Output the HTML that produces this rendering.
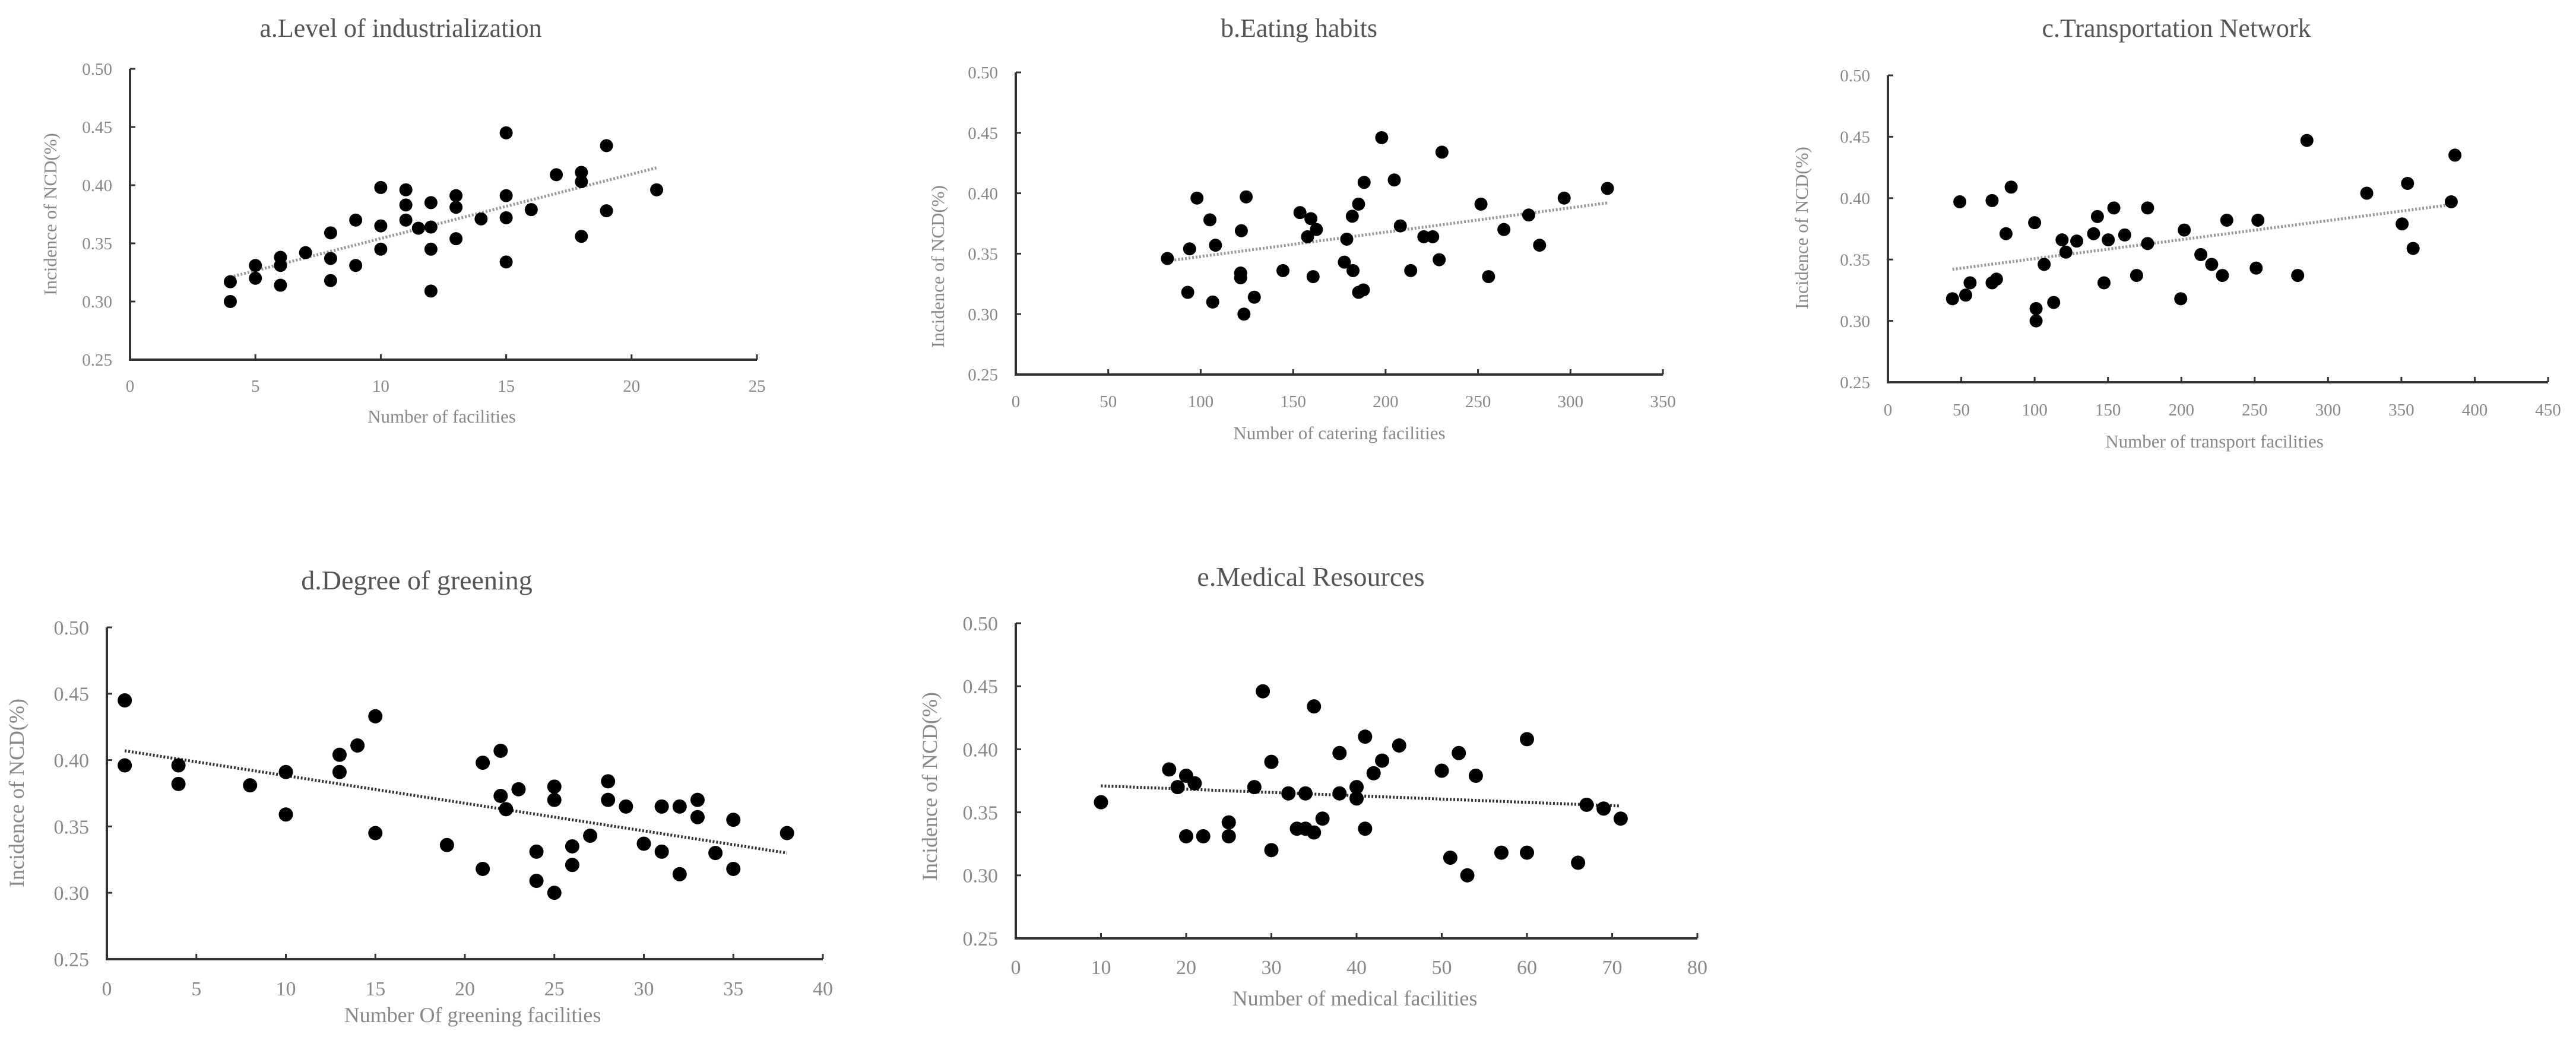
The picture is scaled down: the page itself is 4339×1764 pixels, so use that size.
<!DOCTYPE html>
<html><head><meta charset="utf-8"><style>
html,body{margin:0;padding:0;background:#fff;}
svg{display:block;font-family:"Liberation Serif",serif;}
</style></head><body>
<svg id="fig" width="4339" height="1764" viewBox="0 0 4339 1764" xmlns="http://www.w3.org/2000/svg"></svg>
<script>
const yTicks = [0.25,0.30,0.35,0.40,0.45,0.50];
const aX = [4,4,5,5,6,6,6,7,8,8,8,9,9,10,10,10,11,11,11,11.5,12,12,12,12,13,13,13,14,15,15,15,15,16,17,18,18,18,19,19,21];
const aY = [0.317,0.300,0.331,0.320,0.338,0.331,0.314,0.342,0.359,0.337,0.318,0.370,0.331,0.398,0.365,0.345,0.396,0.383,0.370,0.363,0.385,0.364,0.345,0.309,0.391,0.381,0.354,0.371,0.445,0.391,0.372,0.334,0.379,0.409,0.411,0.403,0.356,0.434,0.378,0.396];
const aTrend = [[4,0.321],[21,0.415]];
const bX = [82,93,94,98,105,106.5,108,122,121.6,121.6,123.4,124.6,129,144.5,153.7,159.6,157.8,162.6,160.8,179,177.7,182.4,182,185.4,185.4,188,188.4,197.9,204.7,208,213.6,220.7,225.5,229,230.5,251.6,255.7,264,277.4,283.3,296.6,320];
const bY = [0.346,0.318,0.354,0.396,0.378,0.310,0.357,0.369,0.334,0.330,0.300,0.397,0.314,0.336,0.384,0.379,0.364,0.370,0.331,0.362,0.343,0.336,0.381,0.391,0.318,0.320,0.409,0.446,0.411,0.373,0.336,0.364,0.364,0.345,0.434,0.391,0.331,0.370,0.382,0.357,0.396,0.404];
const bTrend = [[82,0.344],[320,0.392]];
const cX = [44,49,53,56,71,71,74,80.5,84,100,101,101,106.5,113,118.7,121.3,128.7,140.2,142.8,147.3,150.2,154,161.4,169.5,177,177,199.6,202,213.3,220.7,228,231,251,252.2,279.3,285.6,326.4,350.5,354.2,358,384,386.5];
const cY = [0.318,0.397,0.321,0.331,0.398,0.331,0.334,0.371,0.409,0.380,0.310,0.300,0.346,0.315,0.366,0.356,0.365,0.371,0.385,0.331,0.366,0.392,0.370,0.337,0.392,0.363,0.318,0.374,0.354,0.346,0.337,0.382,0.343,0.382,0.337,0.447,0.404,0.379,0.412,0.359,0.397,0.435];
const cTrend = [[44,0.342],[386,0.395]];
const dX = [1,1,4,4,8,10,10,13,13,14,15,15,19,21,21,22,22,22.3,23,24,24,25,25,25,26,26,27,28,28,29,30,31,31,32,32,33,33,34,35,35,38];
const dY = [0.445,0.396,0.396,0.382,0.381,0.391,0.359,0.404,0.391,0.411,0.433,0.345,0.336,0.398,0.318,0.407,0.373,0.363,0.378,0.331,0.309,0.380,0.370,0.300,0.335,0.321,0.343,0.384,0.370,0.365,0.337,0.365,0.331,0.365,0.314,0.370,0.357,0.330,0.355,0.318,0.345];
const dTrend = [[1,0.407],[38,0.330]];
const eX = [10,18,19,20,21,20,22,25,25,28,29,30,30,32,33,34,34,35,35,36,38,38,40,40,41,41,42,43,45,50,51,52,53,54,57,60,60,66,67,69,71];
const eY = [0.358,0.384,0.370,0.379,0.373,0.331,0.331,0.342,0.331,0.370,0.446,0.390,0.320,0.365,0.337,0.365,0.337,0.334,0.434,0.345,0.397,0.365,0.370,0.361,0.410,0.337,0.381,0.391,0.403,0.383,0.314,0.397,0.300,0.379,0.318,0.408,0.318,0.310,0.356,0.353,0.345];
const eTrend = [[10,0.371],[71,0.355]];
const aXTicks = [0,5,10,15,20,25];
const bXTicks = [0,50,100,150,200,250,300,350];
const cXTicks = [0,50,100,150,200,250,300,350,400,450];
const dXTicks = [0,5,10,15,20,25,30,35,40];
const eXTicks = [0,10,20,30,40,50,60,70,80];

const NS = "http://www.w3.org/2000/svg";
const svg = document.getElementById('fig');
function mk(tag, attrs, parent){
  const el = document.createElementNS(NS, tag);
  for (const k in attrs) el.setAttribute(k, attrs[k]);
  parent.appendChild(el);
  return el;
}
const charts = [
 {id:'a', title:'a.Level of industrialization', xt:'Number of facilities', x0:219,x1:1275,xmax:25,yT:116,yB:606, xs:aX, ys:aY, tr:aTrend, ticks:aXTicks, tx:675,ty:62, xlY:660, xtx:744,xty:712, ylx:95, yly:361, fs:29, tfs:44, r:11},
 {id:'b', title:'b.Eating  habits', xt:'Number of catering facilities', x0:1711,x1:2801,xmax:350,yT:122,yB:631, xs:bX, ys:bY, tr:bTrend, ticks:bXTicks, tx:2188,ty:62, xlY:686, xtx:2256,xty:740, ylx:1590, yly:449, fs:29, tfs:44, r:11},
 {id:'c', title:'c.Transportation  Network', xt:'Number of transport facilities', x0:3180,x1:4292,xmax:450,yT:127,yB:644, xs:cX, ys:cY, tr:cTrend, ticks:cXTicks, tx:3666,ty:62, xlY:700, xtx:3730,xty:754, ylx:3045, yly:384, fs:29, tfs:44, r:11},
 {id:'d', title:'d.Degree  of  greening', xt:'Number Of greening  facilities', x0:180,x1:1386,xmax:40,yT:1057,yB:1616, xs:dX, ys:dY, tr:dTrend, ticks:dXTicks, tx:702,ty:993, xlY:1677, xtx:796,xty:1722, ylx:40, yly:1336, fs:34, tfs:46, r:12},
 {id:'e', title:'e.Medical  Resources', xt:'Number of medical facilities', x0:1711,x1:2859,xmax:80,yT:1050,yB:1581, xs:eX, ys:eY, tr:eTrend, ticks:eXTicks, tx:2208,ty:987, xlY:1641, xtx:2282,xty:1694, ylx:1578, yly:1325, fs:34, tfs:46, r:12}
];
charts.forEach(c => {
  const g = mk('g', {}, svg);
  
  
  const X = v => c.x0 + (v / c.xmax) * (c.x1 - c.x0);
  const Y = v => c.yB - (v - 0.25) / 0.25 * (c.yB - c.yT);
  const t = mk('text', {x:c.tx, y:c.ty, 'text-anchor':'middle', 'font-size':c.tfs, fill:'#555'}, g);
  t.textContent = c.title;
  
  
  const ax = mk('path', {d:`M${c.x0},${c.yT} L${c.x0},${c.yB} L${c.x1},${c.yB}`, fill:'none', stroke:'#333', 'stroke-width':4}, g);
  
  
  yTicks.forEach(v => {
    const y = Y(v);
    mk('line', {x1:c.x0, y1:y, x2:c.x0+9, y2:y, stroke:'#333', 'stroke-width':3}, g);
    const l = mk('text', {x:c.x0-30, y:y+c.fs*0.35, 'text-anchor':'end', 'font-size':c.fs, fill:'#888'}, g);
    l.textContent = v.toFixed(2);
    
    
  });
  c.ticks.forEach(v => {
    const x = X(v);
    mk('line', {x1:x, y1:c.yB, x2:x, y2:c.yB-9, stroke:'#333', 'stroke-width':3}, g);
    const l = mk('text', {x:x, y:c.xlY, 'text-anchor':'middle', 'font-size':c.fs, fill:'#888'}, g);
    l.textContent = String(v);
    
    
  });
  const xt = mk('text', {x:c.xtx, y:c.xty, 'text-anchor':'middle', 'font-size':c.fs+2, fill:'#888'}, g);
  xt.textContent = c.xt;
  
  
  const yt = mk('text', {x:c.ylx, y:c.yly, 'text-anchor':'middle', 'font-size':c.fs+2, fill:'#888', transform:`rotate(-90 ${c.ylx} ${c.yly})`}, g);
  yt.textContent = 'Incidence of NCD(%)';
  
  
  const tl = mk('line', {x1:X(c.tr[0][0]), y1:Y(c.tr[0][1]), x2:X(c.tr[1][0]), y2:Y(c.tr[1][1]), stroke:(c.id==='d'||c.id==='e')?'#333':'#999', 'stroke-width':5, 'stroke-dasharray':'3 3'}, g);
  
  
  c.xs.forEach((xv, i) => {
    const p = mk('circle', {cx:X(xv), cy:Y(c.ys[i]), r:c.r, fill:'#000'}, g);
    
    
  });
});
</script>
</body></html>
